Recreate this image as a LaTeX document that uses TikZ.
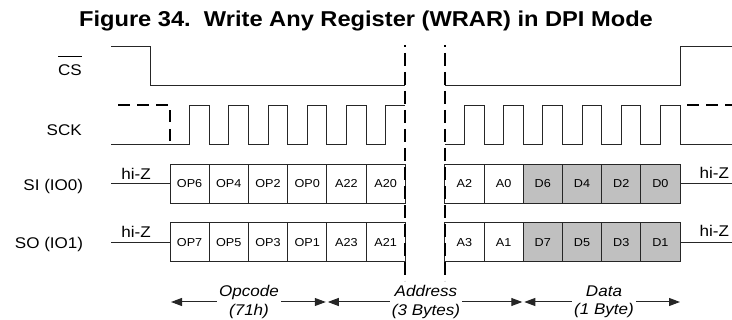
\documentclass[tikz,border=0pt]{standalone}
\usepackage{fontspec}
\setmainfont{Liberation Sans}[FakeStretch=1.1]
\usetikzlibrary{arrows.meta}
\definecolor{datgray}{HTML}{C0C0C0}
\definecolor{ink}{HTML}{262626}
\begin{document}
\begin{tikzpicture}[x=1pt,y=-1pt,
  sig/.style={line width=1pt, draw=ink},
  cellbox/.style={draw=ink, line width=1pt, minimum width=39.2pt, minimum height=39.2pt, inner sep=0pt, font=\fontsize{11.5}{13}\selectfont},
  datbox/.style={cellbox, fill=datgray},
  lbl/.style={font=\fontsize{15.5}{18}\selectfont, inner sep=0pt, anchor=base east},
  hiz/.style={font=\fontsize{15.5}{18}\selectfont, inner sep=0pt, anchor=base},
  ital/.style={font=\fontsize{15.5}{18.5}\selectfont\itshape, align=center, inner sep=2pt},
  gapline/.style={line width=2.3pt, draw=black, dash pattern=on 13pt off 6pt, dash phase=11pt},
  dashsig/.style={line width=2pt, draw=black, dash pattern=on 12pt off 7pt},
  arr/.style={line width=1pt, draw=ink, -{Triangle[length=11pt,width=8pt]}}
]
\useasboundingbox (0,0) rectangle (732,320);

% title
\node[font=\fontsize{21.5}{24}\selectfont\bfseries, anchor=base, inner sep=0pt] (title) at (366,26.7) {Figure 34.~~Write Any Register (WRAR) in DPI Mode};

% signal labels
\node[lbl] (cs) at (82,76) {\vbox{\hrule height 1pt\kern 8pt\hbox{CS}}};
\node[lbl] (sck) at (82,135.3) {SCK};
\node[lbl] (si) at (83.3,190.7) {SI (IO0)};
\node[lbl] (so) at (83.3,248.7) {SO (IO1)};

% CS waveform
\draw[sig] (111,46.7) -- (150.7,46.7) -- (150.7,85.3) -- (405.2,85.3);
\draw[sig] (444.8,85.3) -- (680.3,85.3) -- (680.3,46.7) -- (732,46.7);

% SCK waveform
\draw[sig] (111,144.3) -- (189.6,144.3) -- (189.6,105.3) -- (209.2,105.3) -- (209.2,144.3) -- (228.8,144.3) -- (228.8,105.3) -- (248.4,105.3) -- (248.4,144.3) -- (268,144.3) -- (268,105.3) -- (287.6,105.3) -- (287.6,144.3) -- (307.2,144.3) -- (307.2,105.3) -- (326.8,105.3) -- (326.8,144.3) -- (346.4,144.3) -- (346.4,105.3) -- (366,105.3) -- (366,144.3) -- (385.6,144.3) -- (385.6,105.3) -- (405.2,105.3);
\draw[sig] (444.8,144.3) -- (464.4,144.3) -- (464.4,105.3) -- (484,105.3) -- (484,144.3) -- (503.6,144.3) -- (503.6,105.3) -- (523.2,105.3) -- (523.2,144.3) -- (542.8,144.3) -- (542.8,105.3) -- (562.4,105.3) -- (562.4,144.3) -- (582,144.3) -- (582,105.3) -- (601.6,105.3) -- (601.6,144.3) -- (621.2,144.3) -- (621.2,105.3) -- (640.8,105.3) -- (640.8,144.3) -- (660.4,144.3) -- (660.4,105.3) -- (680,105.3) -- (680,144.3) -- (732,144.3);
\draw[dashsig] (118,105.3) -- (170,105.3) -- (170,146);
\draw[dashsig] (687,105.3) -- (732,105.3);

% SI cells
\foreach \lab [count=\i] in {OP6,OP4,OP2,OP0,A22,A20}
  \node[cellbox] (si\i) at ({170+39.2*(\i-0.5)},183.7) {\lab};
\foreach \lab [count=\i] in {A2,A0}
  \node[cellbox] (sib\i) at ({444.8+39.2*(\i-0.5)},183.7) {\lab};
\foreach \lab [count=\i from 3] in {D6,D4,D2,D0}
  \node[datbox] (sib\i) at ({444.8+39.2*(\i-0.5)},183.7) {\lab};

% SO cells
\foreach \lab [count=\i] in {OP7,OP5,OP3,OP1,A23,A21}
  \node[cellbox] (so\i) at ({170+39.2*(\i-0.5)},242.2) {\lab};
\foreach \lab [count=\i] in {A3,A1}
  \node[cellbox] (sob\i) at ({444.8+39.2*(\i-0.5)},242.2) {\lab};
\foreach \lab [count=\i from 3] in {D7,D5,D3,D1}
  \node[datbox] (sob\i) at ({444.8+39.2*(\i-0.5)},242.2) {\lab};

% hi-Z lines and labels
\coordinate (siIn) at (111,183.7);
\coordinate (siOut) at (732,183.7);
\coordinate (soIn) at (111,242.2);
\coordinate (soOut) at (732,242.2);
\draw[sig] (siIn) -- (si1.west);
\draw[sig] (sib6.east) -- (siOut);
\draw[sig] (soIn) -- (so1.west);
\draw[sig] (sob6.east) -- (soOut);
\node[hiz] (hz1) at (136,179.2) {hi-Z};
\node[hiz] (hz2) at (714.3,178.2) {hi-Z};
\node[hiz] (hz3) at (136,237.7) {hi-Z};
\node[hiz] (hz4) at (714.3,236.7) {hi-Z};

% gap dashed lines
\draw[gapline] (405.2,45) -- (405.2,281);
\draw[gapline] (444.8,45) -- (444.8,281);

% phase arrows
\node[ital] (opc) at (249,302) {Opcode\\(71h)};
\node[ital] (adr) at (426,302) {Address\\(3 Bytes)};
\node[ital] (dat) at (604,302) {Data\\(1 Byte)};
\coordinate (opcL) at (171,302);
\coordinate (opcR) at (325.8,302);
\coordinate (adrL) at (327.8,302);
\coordinate (adrR) at (522.3,302);
\coordinate (datL) at (524.3,302);
\coordinate (datR) at (680,302);
\draw[arr] (opc) -- (opcL);
\draw[arr] (opc) -- (opcR);
\draw[arr] (adr) -- (adrL);
\draw[arr] (adr) -- (adrR);
\draw[arr] (dat) -- (datL);
\draw[arr] (dat) -- (datR);
\end{tikzpicture}
\end{document}
